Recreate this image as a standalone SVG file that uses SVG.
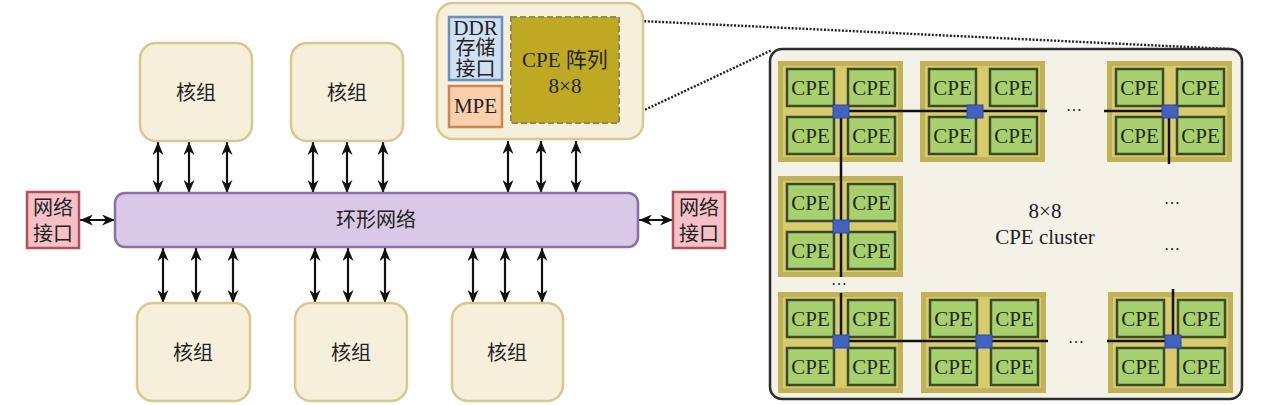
<svg xmlns="http://www.w3.org/2000/svg" width="1269" height="405" viewBox="0 0 1269 405">
<defs>
<marker id="ah" viewBox="0 0 13 11" refX="13" refY="5.5" markerWidth="13" markerHeight="11" markerUnits="userSpaceOnUse" orient="auto-start-reverse">
<path d="M0,0 L13,5.5 L0,11 L4,5.5 z" fill="#111"/>
</marker>
<style>
.core{fill:#f5efdc;stroke:#d8c88e;stroke-width:2.5}
.cjk{font-family:"Noto Sans CJK SC","Noto Sans",sans-serif;font-size:20px;fill:#222;text-anchor:middle}
.ser{font-family:"Liberation Serif","Noto Sans CJK SC",serif;font-size:21px;fill:#222;text-anchor:middle}
.net{fill:#f5c1c6;stroke:#b2505a;stroke-width:2.5}
.arr{stroke:#111;stroke-width:2.2;fill:none;marker-start:url(#ah);marker-end:url(#ah)}
.tile{fill:#d8cb6c;stroke:#c0b357;stroke-width:5}
.cell{fill:#a9d06f;stroke:#3b4a2d;stroke-width:2.5}
.cpe{font-family:"Liberation Serif",serif;font-size:21px;fill:#1e2a14;text-anchor:middle}
.sw{fill:#4262c2;stroke:#2a48a8;stroke-width:1}
.ln{stroke:#111;stroke-width:2.5;fill:none}
.dots{font-family:"Liberation Serif",serif;font-size:16px;fill:#222;text-anchor:middle}
.dot{stroke:#222;stroke-width:2.4;stroke-dasharray:2 1.6;fill:none}
</style>
</defs>
<rect width="1269" height="405" fill="#ffffff"/>

<g id="connectors">
<line class="arr" x1="158" y1="142" x2="158" y2="193"/>
<line class="arr" x1="189" y1="142" x2="189" y2="193"/>
<line class="arr" x1="227" y1="142" x2="227" y2="193"/>
<line class="arr" x1="313" y1="142" x2="313" y2="193"/>
<line class="arr" x1="347" y1="142" x2="347" y2="193"/>
<line class="arr" x1="383" y1="142" x2="383" y2="193"/>
<line class="arr" x1="508" y1="141" x2="508" y2="193"/>
<line class="arr" x1="541" y1="141" x2="541" y2="193"/>
<line class="arr" x1="576" y1="141" x2="576" y2="193"/>
<line class="arr" x1="163" y1="248" x2="163" y2="303"/>
<line class="arr" x1="196" y1="248" x2="196" y2="303"/>
<line class="arr" x1="233" y1="248" x2="233" y2="303"/>
<line class="arr" x1="315" y1="248" x2="315" y2="303"/>
<line class="arr" x1="348" y1="248" x2="348" y2="303"/>
<line class="arr" x1="385" y1="248" x2="385" y2="303"/>
<line class="arr" x1="473" y1="248" x2="473" y2="303"/>
<line class="arr" x1="505" y1="248" x2="505" y2="303"/>
<line class="arr" x1="542" y1="248" x2="542" y2="303"/>
<line class="arr" x1="80" y1="220" x2="115" y2="220"/>
<line class="arr" x1="639" y1="220" x2="673" y2="220"/>
<line class="dot" x1="619" y1="20" x2="1230" y2="49"/>
<line class="dot" x1="619" y1="122" x2="772" y2="50"/>
</g>

<g id="core-top-1"><rect class="core" x="140" y="43" width="112" height="98" rx="16"/><text class="cjk" x="196" y="100">核组</text></g>
<g id="core-top-2"><rect class="core" x="291" y="43" width="112" height="98" rx="16"/><text class="cjk" x="347" y="100">核组</text></g>
<g id="core-bot-1"><rect class="core" x="137" y="303" width="113" height="98" rx="16"/><text class="cjk" x="193" y="360">核组</text></g>
<g id="core-bot-2"><rect class="core" x="295" y="303" width="112" height="98" rx="16"/><text class="cjk" x="351" y="360">核组</text></g>
<g id="core-bot-3"><rect class="core" x="452" y="303" width="111" height="98" rx="16"/><text class="cjk" x="507" y="360">核组</text></g>

<g id="ring"><rect x="115" y="193" width="523" height="54" rx="10" fill="#d9c9e6" stroke="#8c6fa6" stroke-width="2.5"/><text class="cjk" x="376" y="227">环形网络</text></g>

<g id="net-left"><rect class="net" x="27" y="192" width="52" height="56"/><text class="cjk" x="53" y="215">网络<tspan x="53" dy="26">接口</tspan></text></g>
<g id="net-right"><rect class="net" x="673" y="192" width="52" height="56"/><text class="cjk" x="699" y="215">网络<tspan x="699" dy="26">接口</tspan></text></g>

<g id="core-main">
<rect class="core" x="437" y="3" width="206" height="136" rx="16"/>
<g id="ddr"><rect x="449" y="17" width="53" height="63" fill="#cfe0f2" stroke="#6a8fbf" stroke-width="2.5"/>
<text class="ser" x="475.5" y="35">DDR<tspan class="cjk" x="475.5" dy="20">存储</tspan><tspan class="cjk" x="475.5" dy="21">接口</tspan></text></g>
<g id="mpe"><rect x="449" y="86" width="53" height="41" fill="#f9cfae" stroke="#c8884f" stroke-width="2.5"/><text class="ser" x="475.5" y="113">MPE</text></g>
<g id="cpe-array"><rect x="511" y="17" width="108" height="106" fill="#c0a922" stroke="#8f8a55" stroke-width="2" stroke-dasharray="6 3"/>
<text class="ser" x="565" y="67">CPE 阵列<tspan x="565" dy="26">8×8</tspan></text></g>
</g>

<g id="cluster">
<rect x="770" y="49" width="472" height="350" rx="12" fill="#f4f1e6" stroke="#2b2b2b" stroke-width="2.5"/>
</g>

<g id="tile-1-1" transform="translate(778,61)"><rect class="tile" x="2.5" y="2.5" width="120" height="96"/>
<rect class="cell" x="9" y="8" width="47" height="37"/><rect class="cell" x="70" y="8" width="47" height="37"/><rect class="cell" x="9" y="56" width="47" height="37"/><rect class="cell" x="70" y="56" width="47" height="37"/>
<text class="cpe" x="32.5" y="34">CPE</text><text class="cpe" x="93.5" y="34">CPE</text><text class="cpe" x="32.5" y="82">CPE</text><text class="cpe" x="93.5" y="82">CPE</text></g>
<g id="tile-1-2" transform="translate(920,61)"><rect class="tile" x="2.5" y="2.5" width="120" height="96"/>
<rect class="cell" x="9" y="8" width="47" height="37"/><rect class="cell" x="70" y="8" width="47" height="37"/><rect class="cell" x="9" y="56" width="47" height="37"/><rect class="cell" x="70" y="56" width="47" height="37"/>
<text class="cpe" x="32.5" y="34">CPE</text><text class="cpe" x="93.5" y="34">CPE</text><text class="cpe" x="32.5" y="82">CPE</text><text class="cpe" x="93.5" y="82">CPE</text></g>
<g id="tile-1-8" transform="translate(1107,61)"><rect class="tile" x="2.5" y="2.5" width="120" height="96"/>
<rect class="cell" x="9" y="8" width="47" height="37"/><rect class="cell" x="70" y="8" width="47" height="37"/><rect class="cell" x="9" y="56" width="47" height="37"/><rect class="cell" x="70" y="56" width="47" height="37"/>
<text class="cpe" x="32.5" y="34">CPE</text><text class="cpe" x="93.5" y="34">CPE</text><text class="cpe" x="32.5" y="82">CPE</text><text class="cpe" x="93.5" y="82">CPE</text></g>
<g id="tile-2-1" transform="translate(778,176)"><rect class="tile" x="2.5" y="2.5" width="120" height="96"/>
<rect class="cell" x="9" y="8" width="47" height="37"/><rect class="cell" x="70" y="8" width="47" height="37"/><rect class="cell" x="9" y="56" width="47" height="37"/><rect class="cell" x="70" y="56" width="47" height="37"/>
<text class="cpe" x="32.5" y="34">CPE</text><text class="cpe" x="93.5" y="34">CPE</text><text class="cpe" x="32.5" y="82">CPE</text><text class="cpe" x="93.5" y="82">CPE</text></g>
<g id="tile-8-1" transform="translate(778,292)"><rect class="tile" x="2.5" y="2.5" width="120" height="96"/>
<rect class="cell" x="9" y="8" width="47" height="37"/><rect class="cell" x="70" y="8" width="47" height="37"/><rect class="cell" x="9" y="56" width="47" height="37"/><rect class="cell" x="70" y="56" width="47" height="37"/>
<text class="cpe" x="32.5" y="34">CPE</text><text class="cpe" x="93.5" y="34">CPE</text><text class="cpe" x="32.5" y="82">CPE</text><text class="cpe" x="93.5" y="82">CPE</text></g>
<g id="tile-8-2" transform="translate(921,292)"><rect class="tile" x="2.5" y="2.5" width="120" height="96"/>
<rect class="cell" x="9" y="8" width="47" height="37"/><rect class="cell" x="70" y="8" width="47" height="37"/><rect class="cell" x="9" y="56" width="47" height="37"/><rect class="cell" x="70" y="56" width="47" height="37"/>
<text class="cpe" x="32.5" y="34">CPE</text><text class="cpe" x="93.5" y="34">CPE</text><text class="cpe" x="32.5" y="82">CPE</text><text class="cpe" x="93.5" y="82">CPE</text></g>
<g id="tile-8-8" transform="translate(1108,292)"><rect class="tile" x="2.5" y="2.5" width="120" height="96"/>
<rect class="cell" x="9" y="8" width="47" height="37"/><rect class="cell" x="70" y="8" width="47" height="37"/><rect class="cell" x="9" y="56" width="47" height="37"/><rect class="cell" x="70" y="56" width="47" height="37"/>
<text class="cpe" x="32.5" y="34">CPE</text><text class="cpe" x="93.5" y="34">CPE</text><text class="cpe" x="32.5" y="82">CPE</text><text class="cpe" x="93.5" y="82">CPE</text></g>

<g id="cluster-links">
<line class="ln" x1="849" y1="111" x2="1047" y2="111"/>
<line class="ln" x1="1104" y1="111" x2="1162" y2="111"/>
<line class="ln" x1="841" y1="118" x2="841" y2="277"/>
<line class="ln" x1="1169" y1="118" x2="1169" y2="164"/>
<line class="ln" x1="841" y1="293" x2="841" y2="336"/>
<line class="ln" x1="849" y1="341" x2="1048" y2="341"/>
<line class="ln" x1="1107" y1="341" x2="1166" y2="341"/>
<line class="ln" x1="1173" y1="289" x2="1173" y2="336"/>
<rect class="sw" x="833" y="105" width="16" height="13"/>
<rect class="sw" x="967" y="105" width="16" height="13"/>
<rect class="sw" x="1162" y="105" width="16" height="13"/>
<rect class="sw" x="833" y="220" width="16" height="13"/>
<rect class="sw" x="833" y="335" width="16" height="13"/>
<rect class="sw" x="976" y="335" width="16" height="13"/>
<rect class="sw" x="1165" y="335" width="16" height="13"/>
</g>

<g id="cluster-labels">
<text class="dots" x="1074" y="111">…</text>
<text class="dots" x="1076" y="343">…</text>
<text class="dots" x="1172" y="204">…</text>
<text class="dots" x="1172" y="250">…</text>
<text class="dots" x="839" y="285">…</text>
<text class="ser" x="1045" y="218">8×8<tspan x="1045" dy="26">CPE cluster</tspan></text>
</g>
</svg>
